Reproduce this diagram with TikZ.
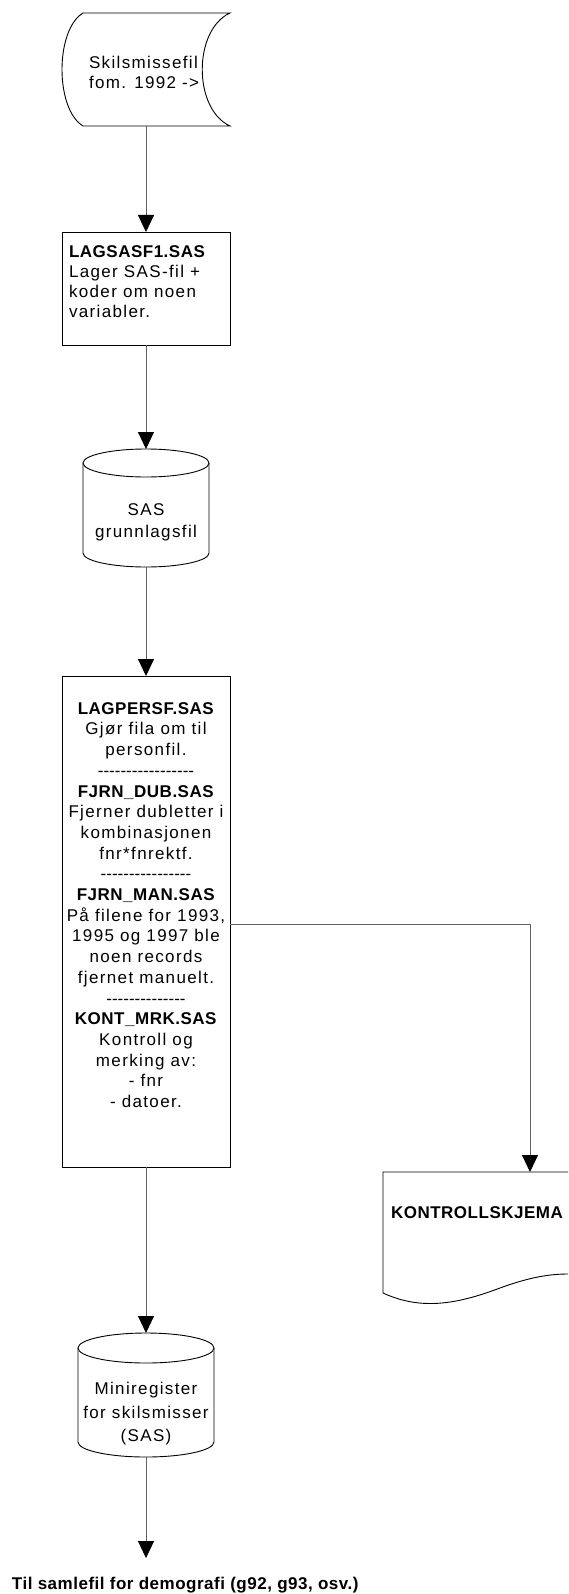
\documentclass[tikz,border=0pt]{standalone}
\usepackage{fontspec}
\setmainfont[LetterSpace=8,BoldFeatures={LetterSpace=3}]{Liberation Sans}
\usetikzlibrary{arrows.meta}
\newcommand\hyrow[1]{{\addfontfeature{LetterSpace=0}\count255=0 \loop\ifnum\count255<#1 -\kern0pt\advance\count255 by 1 \repeat}}
\begin{document}
\begin{tikzpicture}[x=1pt,y=-1pt,
  conn/.style={draw=black!62, line width=0.9pt},
  arr/.style={conn, -{Triangle[width=16pt,length=17pt,color=black]}},
  outline/.style={draw=black, line width=0.9pt},
  hold/.style={draw=none, inner sep=0pt, outer sep=0pt},
  boxed/.style={outline, inner sep=0pt, outer sep=0pt},
  txt/.style={inner sep=0pt, outer sep=0pt, font=\fontsize{17}{20}\selectfont},
]
\useasboundingbox[fill=white] (0,0) rectangle (568,1594);

% source: stored data shape
\node[hold, minimum width=168pt, minimum height=113pt] (src) at (146,69.5) {};
\draw[outline] (83,13) -- (230,13) .. controls (193,30) and (193,109) .. (230,126)
  -- (83,126) .. controls (55,109) and (55,30) .. (83,13) -- cycle;
\node[txt, align=left, anchor=west] (srctxt) at (89,72) {Skilsmissefil\\fom. 1992 ->};

% LAGSASF1 box
\node[boxed, minimum width=168pt, minimum height=113pt] (lag1) at (146,288.5) {};
\node[txt, align=left, anchor=west] (lag1txt) at (69,282)
  {\textbf{LAGSASF1.SAS}\\Lager SAS-fil +\\koder om noen\\variabler.};

% cylinder 1
\node[hold, minimum width=126pt, minimum height=118pt] (cyl1) at (146,508) {};
\draw[outline] (83,463) -- (83,553) arc[start angle=180, end angle=0, x radius=63, y radius=14] -- (209,463);
\draw[outline] (146,463) ellipse[x radius=63, y radius=14];
\node[txt, align=center, font=\fontsize{17}{22}\selectfont] (cyl1txt) at (146,522.8) {SAS\\grunnlagsfil};

% big process box
\node[boxed, minimum width=168pt, minimum height=491pt] (big) at (146,921.5) {};
\node[txt, align=center, font=\fontsize{17}{20.7}\selectfont] (bigtxt) at (146,905)
  {\textbf{LAGPERSF.SAS}\\Gjør fila om til\\personfil.\\\hyrow{17}\\
   \textbf{FJRN\_DUB.SAS}\\Fjerner dubletter i\\kombinasjonen\\fnr*fnrektf.\\\hyrow{16}\\
   \textbf{FJRN\_MAN.SAS}\\På filene for 1993,\\1995 og 1997 ble\\noen records\\fjernet manuelt.\\\hyrow{14}\\
   \textbf{KONT\_MRK.SAS}\\Kontroll og\\merking av:\\- fnr\\- datoer.};

% document shape
\node[hold, minimum width=185pt, minimum height=130pt] (doc) at (475.5,1237) {};
\draw[outline] (568,1172) -- (383,1172) -- (383,1293)
  .. controls (420,1310) and (455,1305) .. (500,1288)
  .. controls (530,1277) and (550,1274) .. (568,1274);
\node[txt, anchor=west, font=\fontsize{17}{20}\selectfont\bfseries] (doctxt) at (391,1213) {KONTROLLSKJEMA};

% cylinder 2
\node[hold, minimum width=136pt, minimum height=124pt] (cyl2) at (146,1395) {};
\draw[outline] (78,1348) -- (78,1442) arc[start angle=180, end angle=0, x radius=68, y radius=15] -- (214,1348);
\draw[outline] (146,1348) ellipse[x radius=68, y radius=15];
\node[txt, align=center, font=\fontsize{17}{23.5}\selectfont] (cyl2txt) at (146,1414)
  {Miniregister\\for skilsmisser\\(SAS)};

% output text
\node[txt, anchor=west, font=\fontsize{17}{20}\selectfont\bfseries] (out) at (12,1585)
  {Til samlefil for demografi (g92, g93, osv.)};

% connectors
\coordinate (bend) at (530,924);
\draw[arr] (src.south) -- (lag1.north);
\draw[arr] (lag1.south) -- (cyl1.north);
\draw[arr] (cyl1.south) -- (big.north);
\draw[arr] (big.east |- bend) -- (bend) -- (bend |- doc.north);
\draw[arr] (big.south) -- (cyl2.north);
\draw[arr, shorten >=19pt] (cyl2.south) -- (cyl2.south |- out.north);
\end{tikzpicture}
\end{document}
